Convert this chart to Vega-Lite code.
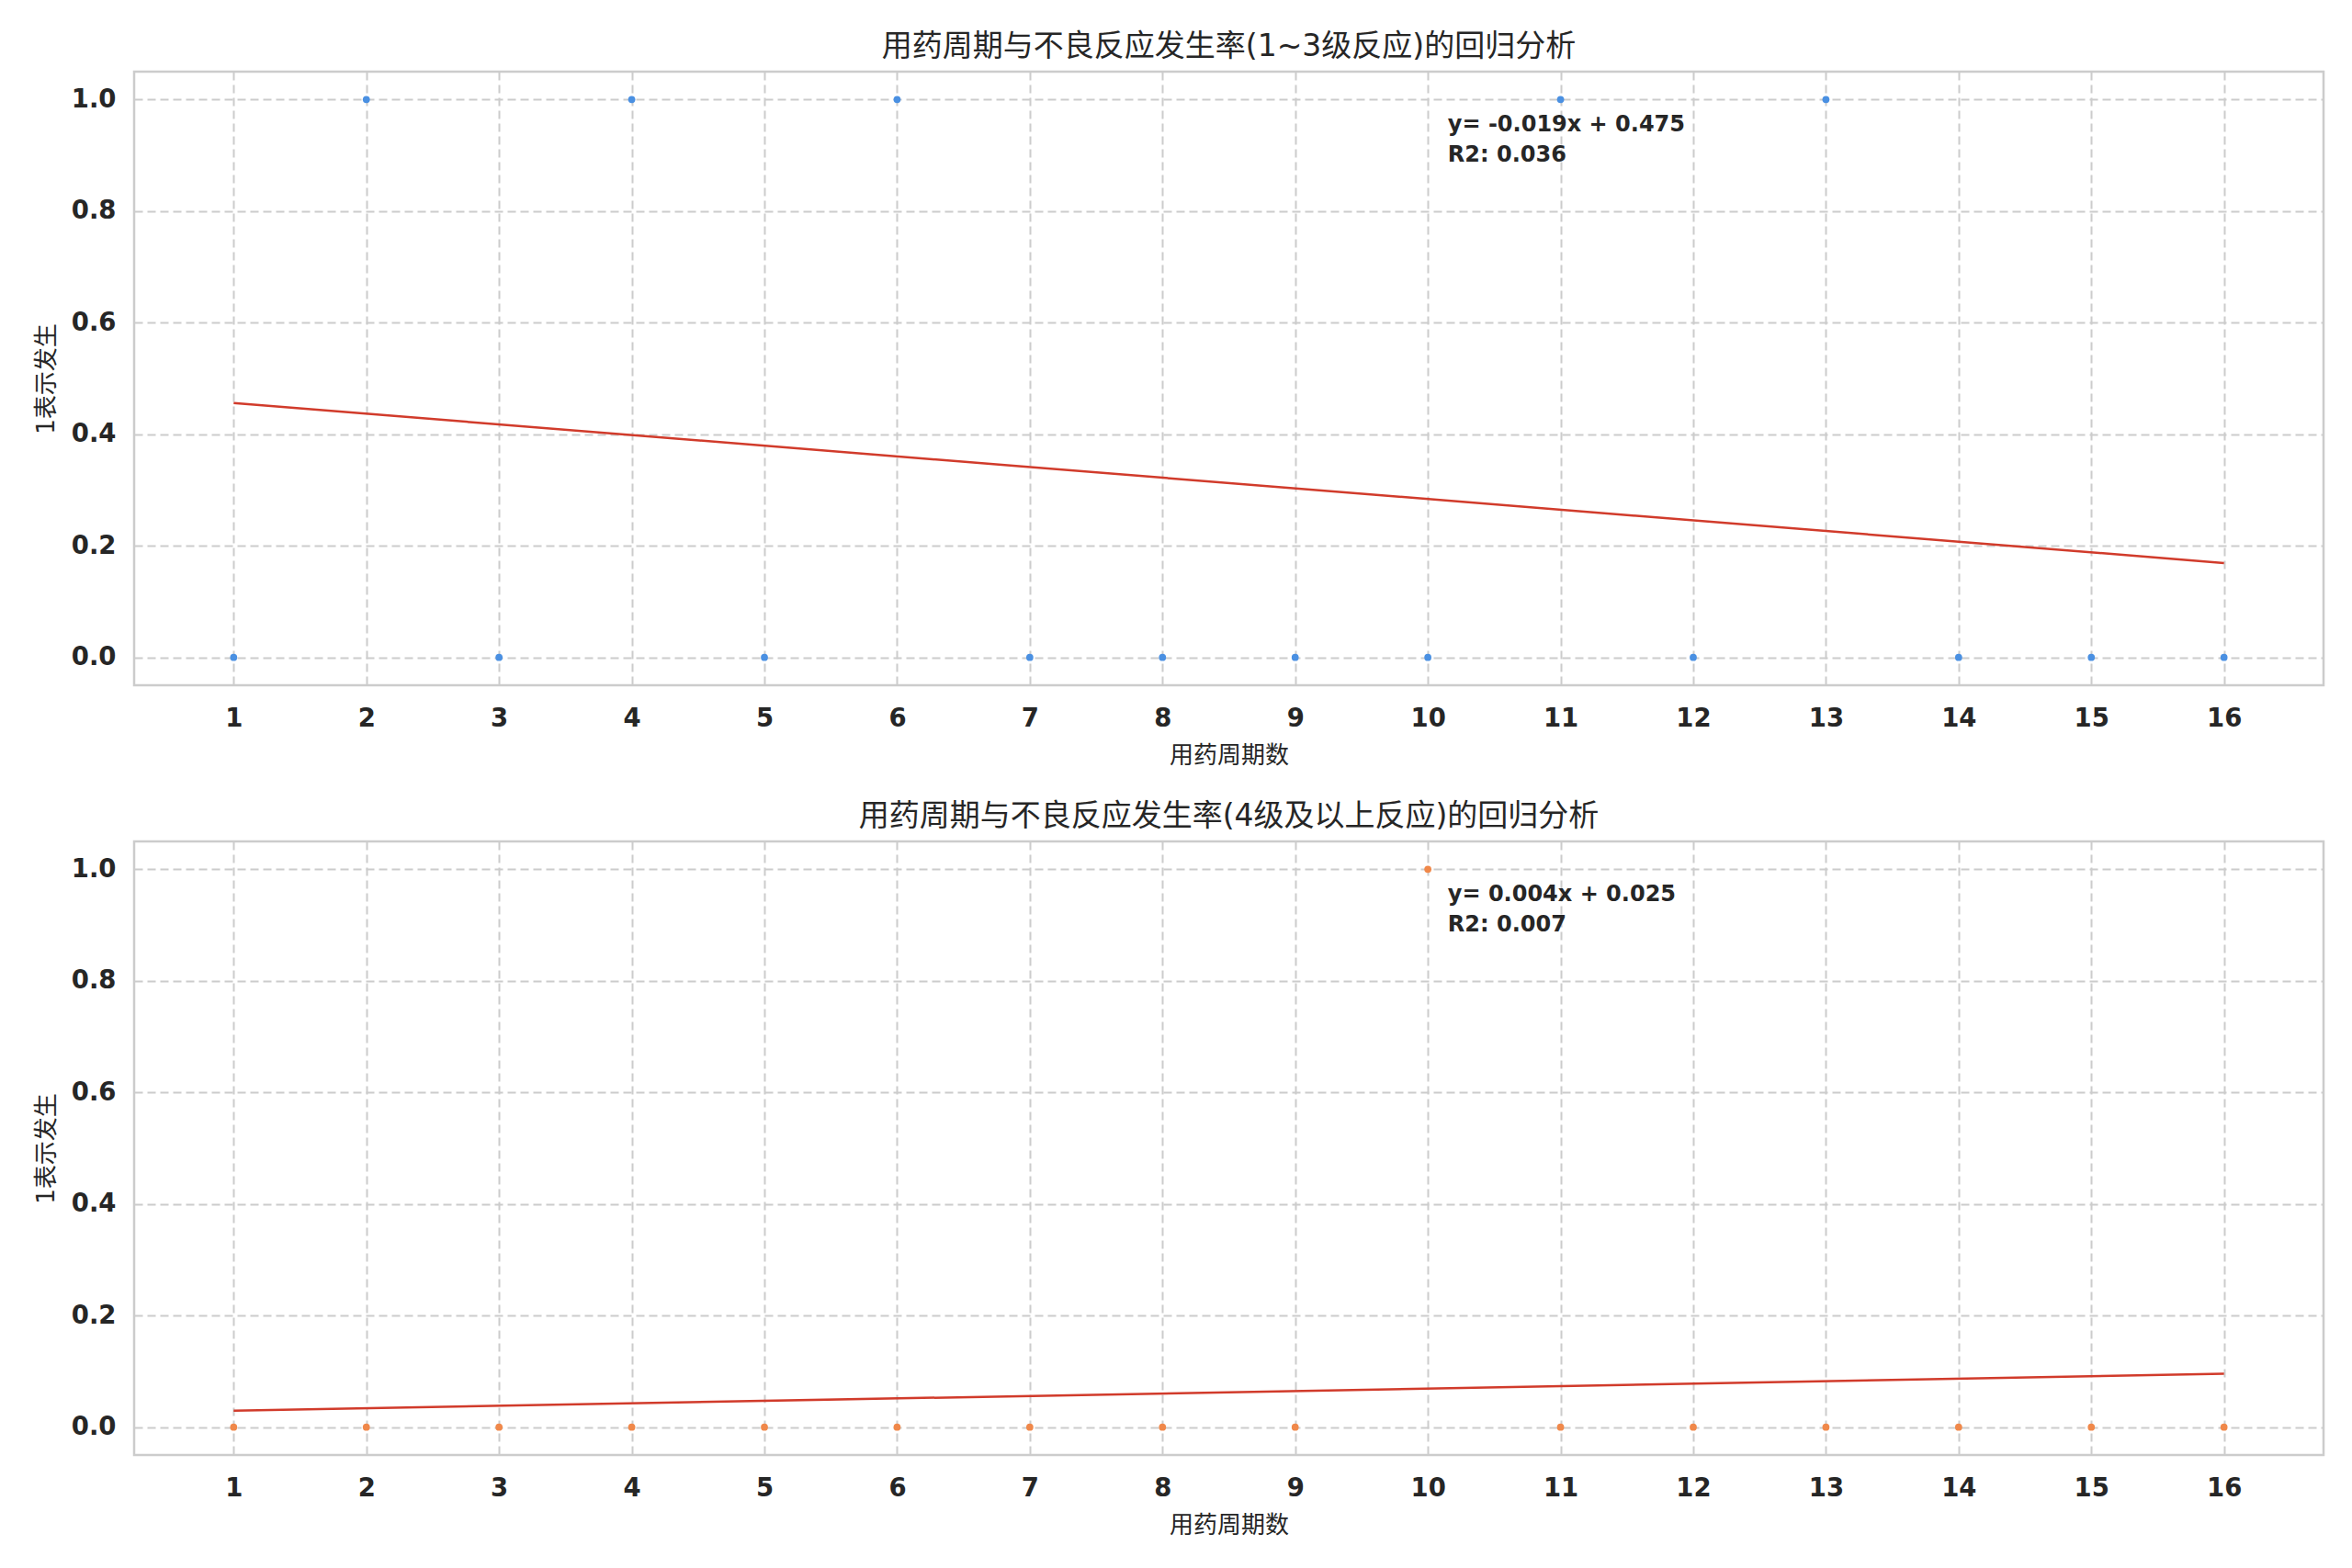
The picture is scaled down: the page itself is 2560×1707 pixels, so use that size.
{
  "$schema": "https://vega.github.io/schema/vega-lite/v6.json",
  "autosize": {"type": "pad"},
  "padding": {"left": 36, "top": 33, "right": 31, "bottom": 10},
  "background": "white",
  "spacing": 34,
  "datasets": {
    "pts_a": [
      {"x": 1, "y": 0}, {"x": 2, "y": 1}, {"x": 3, "y": 0}, {"x": 4, "y": 1},
      {"x": 5, "y": 0}, {"x": 6, "y": 1}, {"x": 7, "y": 0}, {"x": 8, "y": 0},
      {"x": 9, "y": 0}, {"x": 10, "y": 0}, {"x": 11, "y": 1}, {"x": 12, "y": 0},
      {"x": 13, "y": 1}, {"x": 14, "y": 0}, {"x": 15, "y": 0}, {"x": 16, "y": 0}
    ],
    "fit_a": [{"x": 1, "y": 0.4559}, {"x": 16, "y": 0.1691}],
    "note_a": [
      {"x": 10.15, "y": 0.955, "label": "y= -0.019x + 0.475"},
      {"x": 10.15, "y": 0.9, "label": "R2: 0.036"}
    ],
    "pts_b": [
      {"x": 1, "y": 0}, {"x": 2, "y": 0}, {"x": 3, "y": 0}, {"x": 4, "y": 0},
      {"x": 5, "y": 0}, {"x": 6, "y": 0}, {"x": 7, "y": 0}, {"x": 8, "y": 0},
      {"x": 9, "y": 0}, {"x": 10, "y": 1}, {"x": 11, "y": 0}, {"x": 12, "y": 0},
      {"x": 13, "y": 0}, {"x": 14, "y": 0}, {"x": 15, "y": 0}, {"x": 16, "y": 0}
    ],
    "fit_b": [{"x": 1, "y": 0.0294}, {"x": 16, "y": 0.0956}],
    "note_b": [
      {"x": 10.15, "y": 0.955, "label": "y= 0.004x + 0.025"},
      {"x": 10.15, "y": 0.9, "label": "R2: 0.007"}
    ]
  },
  "vconcat": [
    {
      "width": 2383,
      "height": 668,
      "title": "用药周期与不良反应发生率(1~3级反应)的回归分析",
      "layer": [
        {
          "data": {"name": "pts_a"},
          "mark": {"type": "circle", "size": 60, "opacity": 1, "color": "#4a90e2"},
          "encoding": {
            "x": {"field": "x", "type": "quantitative", "scale": {"domain": [0.25, 16.75], "nice": false, "zero": false}, "axis": {"values": [1,2,3,4,5,6,7,8,9,10,11,12,13,14,15,16], "format": "d", "title": "用药周期数"}},
            "y": {"field": "y", "type": "quantitative", "scale": {"domain": [-0.05, 1.05], "nice": false}, "axis": {"values": [0, 0.2, 0.4, 0.6, 0.8, 1.0], "format": ".1f", "title": "1表示发生"}}
          }
        },
        {
          "data": {"name": "fit_a"},
          "mark": {"type": "line", "color": "#d13b2b", "strokeWidth": 2.5},
          "encoding": {
            "x": {"field": "x", "type": "quantitative"},
            "y": {"field": "y", "type": "quantitative"}
          }
        },
        {
          "data": {"name": "note_a"},
          "mark": {"type": "text", "align": "left", "baseline": "middle", "fontSize": 24, "fontWeight": "bold", "color": "#262626", "font": "DejaVu Sans"},
          "encoding": {
            "x": {"field": "x", "type": "quantitative"},
            "y": {"field": "y", "type": "quantitative"},
            "text": {"field": "label"}
          }
        }
      ]
    },
    {
      "width": 2383,
      "height": 668,
      "title": "用药周期与不良反应发生率(4级及以上反应)的回归分析",
      "layer": [
        {
          "data": {"name": "pts_b"},
          "mark": {"type": "circle", "size": 60, "opacity": 1, "color": "#f0884a"},
          "encoding": {
            "x": {"field": "x", "type": "quantitative", "scale": {"domain": [0.25, 16.75], "nice": false, "zero": false}, "axis": {"values": [1,2,3,4,5,6,7,8,9,10,11,12,13,14,15,16], "format": "d", "title": "用药周期数"}},
            "y": {"field": "y", "type": "quantitative", "scale": {"domain": [-0.05, 1.05], "nice": false}, "axis": {"values": [0, 0.2, 0.4, 0.6, 0.8, 1.0], "format": ".1f", "title": "1表示发生"}}
          }
        },
        {
          "data": {"name": "fit_b"},
          "mark": {"type": "line", "color": "#d13b2b", "strokeWidth": 2.5},
          "encoding": {
            "x": {"field": "x", "type": "quantitative"},
            "y": {"field": "y", "type": "quantitative"}
          }
        },
        {
          "data": {"name": "note_b"},
          "mark": {"type": "text", "align": "left", "baseline": "middle", "fontSize": 24, "fontWeight": "bold", "color": "#262626", "font": "DejaVu Sans"},
          "encoding": {
            "x": {"field": "x", "type": "quantitative"},
            "y": {"field": "y", "type": "quantitative"},
            "text": {"field": "label"}
          }
        }
      ]
    }
  ],
  "config": {
    "font": "DejaVu Sans, Noto Sans CJK SC",
    "view": {"stroke": "#cccccc", "strokeWidth": 2.5},
    "title": {"fontSize": 33, "fontWeight": "normal", "color": "#262626", "font": "DejaVu Sans, Noto Sans CJK SC", "offset": 10},
    "axis": {
      "grid": true,
      "gridColor": "#cccccc",
      "gridDash": [9, 5],
      "gridWidth": 2,
      "domain": false,
      "ticks": false,
      "labelFont": "DejaVu Sans",
      "labelFontSize": 27.5,
      "labelFontWeight": "bold",
      "labelColor": "#262626",
      "titleFont": "DejaVu Sans, Noto Sans CJK SC",
      "titleFontSize": 26,
      "titleFontWeight": "normal",
      "titleColor": "#262626"
    },
    "axisX": {"labelPadding": 22, "titlePadding": 14},
    "axisY": {"labelPadding": 20, "titlePadding": 14}
  }
}
